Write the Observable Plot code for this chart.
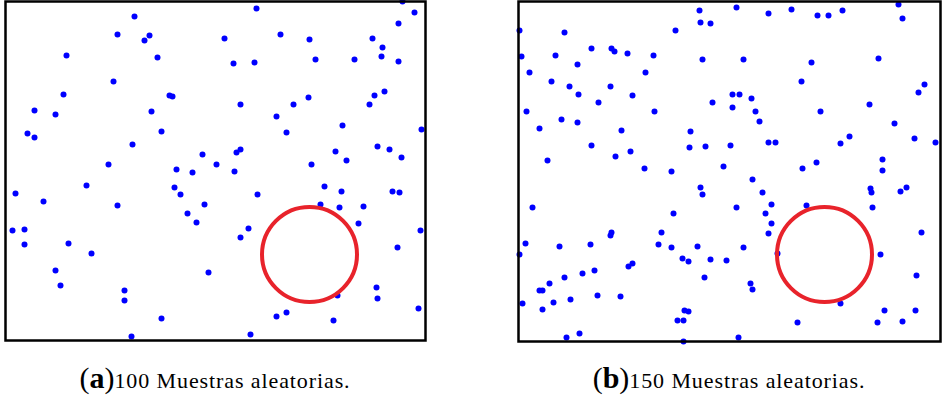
<!DOCTYPE html>
<html>
<head>
<meta charset="utf-8">
<script src="https://cdn.jsdelivr.net/npm/d3@7"></script>
<script src="https://cdn.jsdelivr.net/npm/@observablehq/plot@0.6"></script>
<style>
  html, body { margin: 0; padding: 0; background: #fff; }
  #wrap { position: relative; width: 947px; height: 401px; overflow: hidden; }
  .panel { position: absolute; top: 0; }
  .cap { position: absolute; top: 363px; text-align: center; white-space: nowrap; line-height: 1;
         font-family: "Liberation Serif", "DejaVu Serif", serif; font-size: 22px; letter-spacing: 0.9px; color: #000; }
  .cap .lab { font-size: 30px; letter-spacing: 0; }
  .cap .lab b { font-weight: bold; }
</style>
</head>
<body>
<div id="wrap">
  <div id="pa" class="panel" style="left:0px"></div>
  <div id="pb" class="panel" style="left:513px"></div>
  <div class="cap" style="left:0px;width:430px"><span class="lab">(<b>a</b>)</span>100 Muestras aleatorias.</div>
  <div class="cap" style="left:513px;width:432px"><span class="lab">(<b>b</b>)</span>150 Muestras aleatorias.</div>
</div>
<script>
// Panel (a): 100 random samples (units of the sampling region)
const aX = [129,112,144,139,61,152,108,58,164,167,29,50,146,22,29,156,127,197,103,171,187,
  251,397,409,393,219,275,304,367,377,376,393,228,249,310,349,379,369,364,303,235,288,271,337,416,281,235,231,372,384,330,396,341,211,306,229,
  10,81,38,112,169,175,199,182,191,7,19,19,63,86,50,55,203,119,119,156,126,
  319,336,387,394,252,315,334,358,243,353,415,235,392,371,372,332,413,281,271,328,245];
const aY = [324,306,305,300,285,283,259,246,245,244,230,226,229,207,203,209,196,186,176,171,168,
  332,339,328,317,302,306,301,302,293,284,279,277,278,281,281,249,245,236,243,236,236,224,215,211,208,191,188,194,191,189,183,180,176,176,169,
  147,155,139,135,153,146,136,127,118,110,111,96,97,87,70,55,68,50,40,22,4,
  154,149,149,148,146,136,133,134,112,117,110,103,93,53,42,45,32,28,24,20,6];

// Panel (b): 150 random samples
const bX = [181,182,192,1,46,157,73,93,96,109,135,3,37,59,184,11,127,33,51,92,60,114,80,194,8,136,43,59,21,103,172,73,171,187,112,97,29,126,153,
  218,250,273,299,310,324,380,384,225,293,360,283,406,400,214,221,233,214,237,302,351,241,376,212,250,257,331,322,396,417,205,284,298,364,364,
  182,184,14,155,93,92,143,7,41,72,140,153,179,1,164,170,192,208,110,114,76,46,64,186,31,21,24,79,102,52,35,4,24,166,170,159,165,61,48,165,
  234,244,352,353,382,388,218,253,247,288,354,253,250,403,225,259,362,232,234,398,322,366,397,279,359,384,220];
const bY = [331,319,318,311,309,311,293,293,290,288,286,285,286,277,282,269,269,260,255,255,247,246,239,239,230,230,222,219,213,211,210,196,194,195,190,185,181,173,170,
  334,328,332,326,326,331,337,323,282,279,283,260,257,249,247,247,243,234,230,230,237,220,218,196,199,199,205,198,203,199,175,173,179,182,171,
  154,147,134,128,109,106,109,98,95,97,97,94,95,87,83,80,82,81,75,78,71,64,68,64,58,51,51,46,45,42,39,38,32,31,30,21,21,8,4,0,
  162,149,153,149,150,154,134,137,128,136,134,118,108,109,94,88,87,58,52,66,38,31,31,19,19,20,4];

// Highlighted regions (circle centres)
const circleA = {x: 304, y: 86};
const circleB = {x: 306, y: 87};

const ptsA = aX.map((x, i) => ({x, y: aY[i]}));
const ptsB = bX.map((x, i) => ({x, y: bY[i]}));

function panel(pts, circ, w, xDom, h, yDom) {
  return Plot.plot({
    width: w, height: h,
    marginLeft: 5, marginRight: 5, marginTop: 1, marginBottom: 2,
    style: {overflow: "visible", background: "transparent"},
    x: {axis: null, domain: xDom},
    y: {axis: null, domain: yDom},
    marks: [
      Plot.dot(pts, {x: "x", y: "y", r: 3, fill: "#0000ff", stroke: "none"}),
      Plot.dot([circ], {x: "x", y: "y", r: 47.5, stroke: "#e8232b", strokeWidth: 4, fill: "none"}),
      Plot.frame({stroke: "#000", strokeWidth: 2.5})
    ]
  });
}

document.getElementById("pa").appendChild(panel(ptsA, circleA, 430, [0, 420], 342, [0, 339]));
document.getElementById("pb").appendChild(panel(ptsB, circleB, 432, [0, 422], 343, [0, 340]));
</script>
</body>
</html>
